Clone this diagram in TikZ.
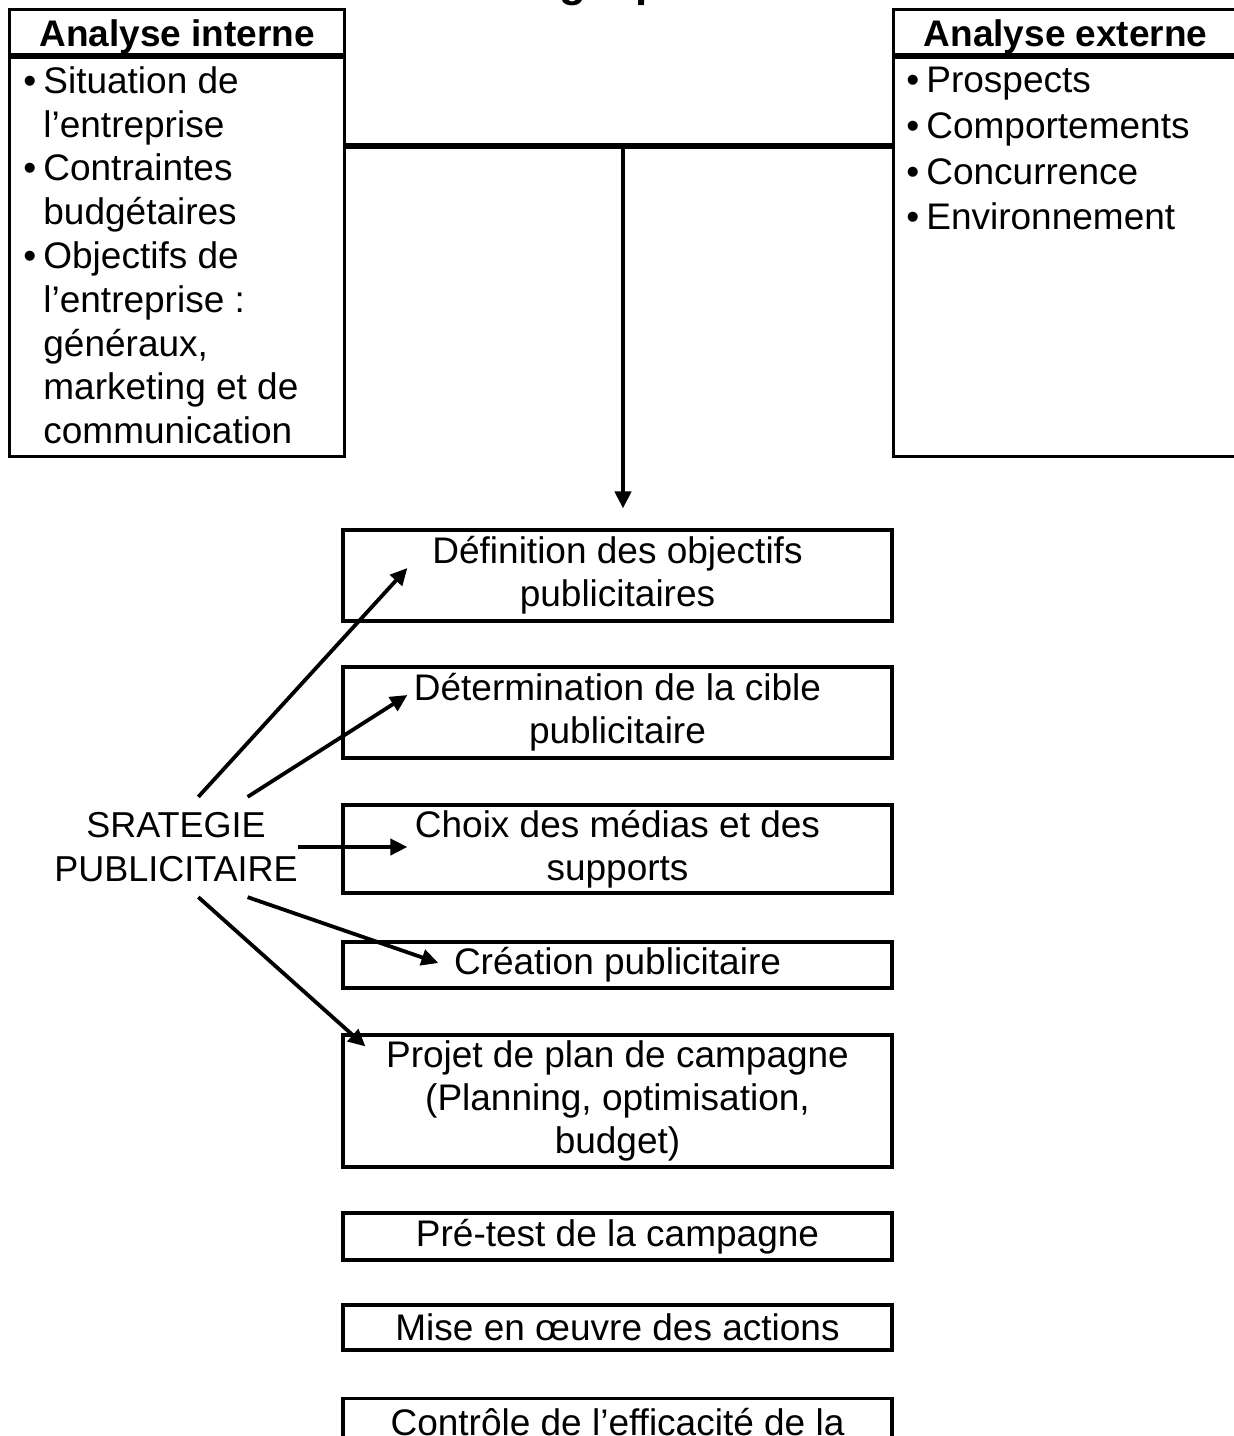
\documentclass[tikz,border=0pt]{standalone}
\usepackage{fontspec}
\setmainfont{Liberation Sans}
\usetikzlibrary{arrows.meta}
\tikzstyle{panel}=[rectangle,draw,line width=1.6pt,inner sep=0pt]
\tikzstyle{head}=[panel,minimum height=22.5pt,text height=14pt,text depth=0pt,font=\fontsize{18.5}{22}\selectfont\bfseries]
\tikzstyle{stage}=[panel,minimum width=274.5pt,align=center,font=\fontsize{18.5}{21.5}\selectfont]
\tikzstyle{items}=[inner sep=0pt,align=left,anchor=north west]
\tikzstyle{flow}=[line width=1.9pt,-{Triangle[length=8.5pt,width=8pt]}]
\tikzstyle{bar}=[line width=3pt]
\newcommand{\bul}{\makebox[10pt][l]{\textbullet}}
\newcommand{\ind}{\hspace*{10pt}}

\begin{document}
\begin{tikzpicture}[x=0.5pt,y=-0.5pt]
  \useasboundingbox (0,0) rectangle (1234,1436);
  \clip (0,0) rectangle (1234,1436);
  \node at (623,-4) [anchor=base,font=\fontsize{22}{26}\selectfont\bfseries] (title) {La stratégie publicitaire};
  \node at (8,8) [head,anchor=north west,minimum width=167.5pt] (intHead) {Analyse interne};
  \node at (intHead.south west) [panel,anchor=north west,minimum width=167.5pt,minimum height=199.5pt] (intBody) {};
  \node at (23,66) [items,font=\fontsize{18.5}{21.9}\selectfont] (intList)
    {\bul Situation de\\ \ind l’entreprise\\ \bul Contraintes\\ \ind budgétaires\\ \bul Objectifs de\\
     \ind l’entreprise :\\ \ind généraux,\\ \ind marketing et de\\ \ind communication};
  \node at (892,8) [head,anchor=north west,minimum width=172pt] (extHead) {Analyse externe};
  \node at (extHead.south west) [panel,anchor=north west,minimum width=172pt,minimum height=199.5pt] (extBody) {};
  \node at (906,67) [items,font=\fontsize{18.5}{22.8}\selectfont] (extList)
    {\bul Prospects\\ \bul Comportements\\ \bul Concurrence\\ \bul Environnement};
  \node at (617.5,575.5) [stage,minimum height=45.5pt] (defBox) {Définition des objectifs\\publicitaires};
  \node at (617.5,712.5) [stage,minimum height=45.5pt] (cibBox) {Détermination de la cible\\publicitaire};
  \node at (617.5,849) [stage,minimum height=44pt] (medBox) {Choix des médias et des\\supports};
  \node at (617.5,965) [stage,minimum height=23pt] (creBox) {Création publicitaire};
  \node at (617.5,1101) [stage,minimum height=66pt] (planBox) {Projet de plan de campagne\\(Planning, optimisation,\\budget)};
  \node at (617.5,1236.5) [stage,minimum height=23.5pt] (testBox) {Pré-test de la campagne};
  \node at (617.5,1327.5) [stage,minimum height=22.5pt] (miseBox) {Mise en œuvre des actions};
  \node at (617.5,1397) [stage,anchor=north,minimum height=45.5pt,text height=13pt,text depth=21.5pt] (ctrlBox) {Contrôle de l’efficacité de la};
  \node at (176,847) [font=\fontsize{18}{22}\selectfont,align=center,inner xsep=0pt,inner ysep=7.5pt] (strat) {SRATEGIE\\PUBLICITAIRE};
  \coordinate (hub) at (623,146);
  \coordinate (defTip) at ([shift={(66,-7.5)}]defBox.west);
  \coordinate (cibTip) at ([shift={(66,-17.5)}]cibBox.west);
  \coordinate (medTip) at ([shift={(66,-2)}]medBox.west);
  \coordinate (creTip) at ([shift={(97,-2)}]creBox.west);
  \coordinate (planTip) at ([shift={(24,13)}]planBox.north west);
  \draw [bar] (intBody.east |- hub) -- (extBody.west |- hub);
  \draw [flow,line width=2.25pt,shorten >=10pt] (hub) -- (hub |- defBox.north);
  \draw [flow] (strat.66) -- (defTip);
  \draw [flow] (strat.35) -- (cibTip);
  \draw [flow] (strat.east) -- (medTip);
  \draw [flow] (strat.-35) -- (creTip);
  \draw [flow] (strat.-66) -- (planTip);
\end{tikzpicture}
\end{document}
